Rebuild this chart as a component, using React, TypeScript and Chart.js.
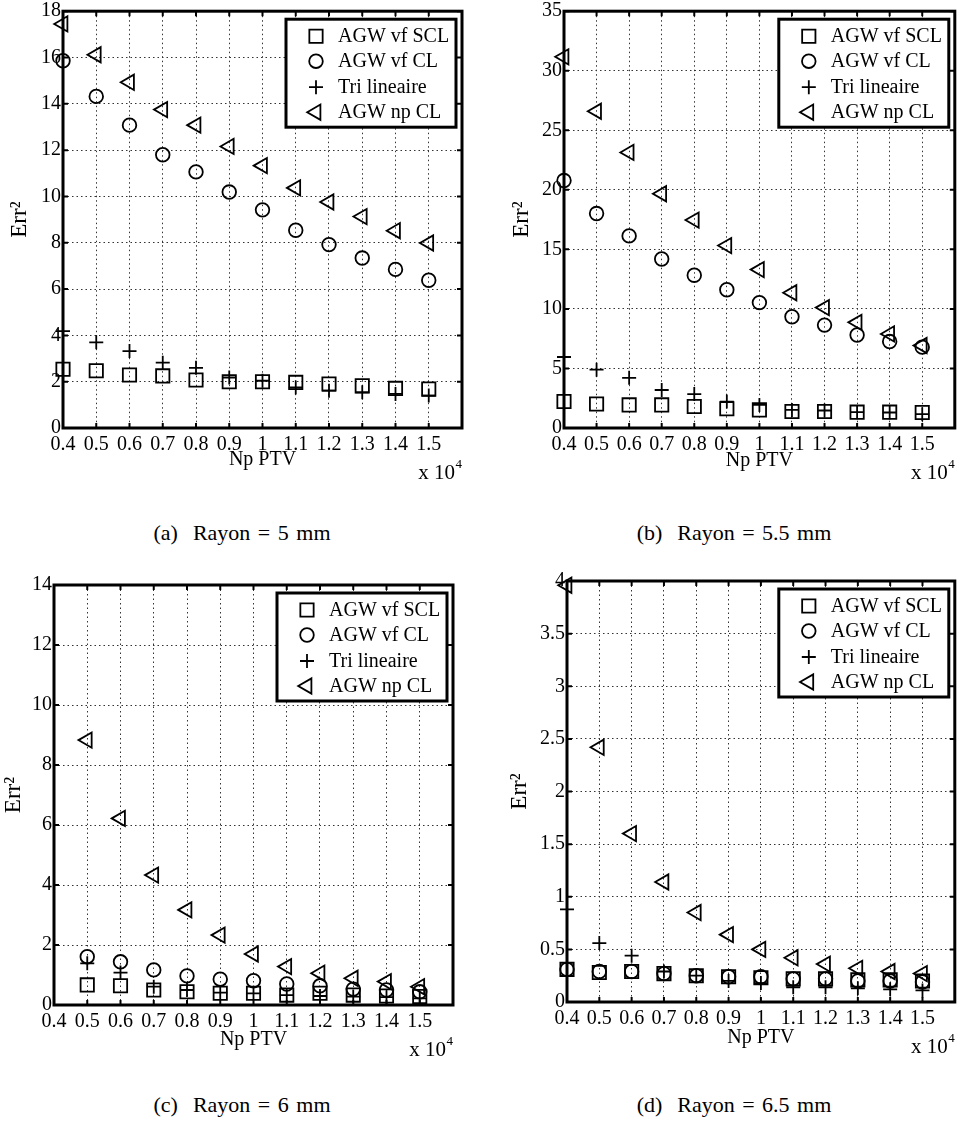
import React, { useEffect, useRef } from 'react';
import { Chart, registerables } from 'chart.js';

Chart.register(...registerables);

// ---------- data ----------
const npPTV = [0.4, 0.5, 0.6, 0.7, 0.8, 0.9, 1.0, 1.1, 1.2, 1.3, 1.4, 1.5];
const xTicks = [0.4, 0.5, 0.6, 0.7, 0.8, 0.9, 1.0, 1.1, 1.2, 1.3, 1.4, 1.5];
const xTickLabels = ['0.4', '0.5', '0.6', '0.7', '0.8', '0.9', '1', '1.1', '1.2', '1.3', '1.4', '1.5'];
const seriesLabels = ['AGW vf SCL', 'AGW vf CL', 'Tri lineaire', 'AGW np CL'];
const xTitle = 'Np PTV';
const yTitle = 'Err²';

// (a) Rayon = 5 mm
const aSCL = [2.54, 2.47, 2.29, 2.25, 2.07, 2.0, 2.0, 1.97, 1.9, 1.82, 1.71, 1.68];
const aVfCL = [15.86, 14.32, 13.08, 11.8, 11.06, 10.19, 9.42, 8.54, 7.92, 7.34, 6.85, 6.38];
const aTri = [4.18, 3.7, 3.32, 2.82, 2.6, 2.18, 2.04, 1.75, 1.61, 1.54, 1.47, 1.4];
const aNpCL = [17.45, 16.12, 14.93, 13.75, 13.08, 12.16, 11.33, 10.37, 9.76, 9.13, 8.52, 7.99];
const aYTicks = [0, 2, 4, 6, 8, 10, 12, 14, 16, 18];

// (b) Rayon = 5.5 mm
const bSCL = [2.22, 2.02, 1.94, 1.94, 1.8, 1.61, 1.52, 1.39, 1.39, 1.33, 1.33, 1.3];
const bVfCL = [20.78, 18.01, 16.13, 14.19, 12.83, 11.61, 10.53, 9.34, 8.64, 7.81, 7.26, 6.79];
const bTri = [5.96, 4.9, 4.21, 3.19, 2.85, 2.22, 1.94, 1.52, 1.47, 1.33, 1.3, 1.16];
const bNpCL = [31.17, 26.6, 23.14, 19.67, 17.46, 15.32, 13.3, 11.36, 10.11, 8.87, 7.9, 6.93];
const bYTicks = [0, 5, 10, 15, 20, 25, 30, 35];

// (c) Rayon = 6 mm
const cSCL = [null, 0.67, 0.64, 0.5, 0.44, 0.39, 0.39, 0.33, 0.39, 0.33, 0.3, 0.28];
const cVfCL = [null, 1.61, 1.44, 1.17, 0.97, 0.86, 0.81, 0.7, 0.64, 0.53, 0.5, 0.44];
const cTri = [null, 1.39, 1.08, 0.61, 0.5, 0.41, 0.39, 0.33, 0.3, 0.28, 0.26, 0.22];
const cNpCL = [null, 8.83, 6.22, 4.33, 3.17, 2.33, 1.7, 1.28, 1.06, 0.89, 0.78, 0.61];
const cYTicks = [0, 2, 4, 6, 8, 10, 12, 14];

// (d) Rayon = 6.5 mm
const dSCL = [0.31, 0.28, 0.29, 0.27, 0.25, 0.24, 0.23, 0.22, 0.22, 0.21, 0.21, 0.2];
const dVfCL = [0.31, 0.29, 0.29, 0.27, 0.25, 0.24, 0.24, 0.22, 0.22, 0.2, 0.2, 0.19];
const dTri = [0.88, 0.56, 0.44, 0.29, 0.25, 0.2, 0.18, 0.14, 0.14, 0.13, 0.12, 0.11];
const dNpCL = [3.96, 2.42, 1.6, 1.14, 0.85, 0.64, 0.5, 0.42, 0.36, 0.32, 0.29, 0.27];
const dYTicks = [0, 0.5, 1, 1.5, 2, 2.5, 3, 3.5, 4];

const captions = ['(a)  Rayon = 5 mm', '(b)  Rayon = 5.5 mm', '(c)  Rayon = 6 mm', '(d)  Rayon = 6.5 mm'];

// ---------- layout / style ----------
const FONT = 'Liberation Serif, Times New Roman, serif';
const X_SCALE_H = 60;

type Marker = { style: string; radius: number; rotation: number };
const markers: Marker[] = [
  { style: 'rect', radius: 9.4, rotation: 0 },
  { style: 'circle', radius: 6.8, rotation: 0 },
  { style: 'cross', radius: 7, rotation: 0 },
  { style: 'triangle', radius: 8.8, rotation: -90 },
];

type Panel = {
  canvas: { left: number; top: number; width: number; height: number };
  area: { l: number; t: number; r: number; b: number };
  yTitleX: number;
  xTitleDy: number;
  yMax: number;
  yTicks: number[];
  series: (number | null)[][];
  caption: string;
  captionX: number;
  captionY: number;
};

const panels: Panel[] = [
  {
    canvas: { left: 0, top: 0, width: 483, height: 500 },
    area: { l: 63, t: 7, r: 462, b: 428 },
    yTitleX: 20, xTitleDy: 32, yMax: 18, yTicks: aYTicks,
    series: [aSCL, aVfCL, aTri, aNpCL],
    caption: captions[0], captionX: 242, captionY: 533,
  },
  {
    canvas: { left: 483, top: 0, width: 483, height: 500 },
    area: { l: 564, t: 7, r: 962, b: 428 },
    yTitleX: 522, xTitleDy: 33, yMax: 35, yTicks: bYTicks,
    series: [bSCL, bVfCL, bTri, bNpCL],
    caption: captions[1], captionX: 734, captionY: 533,
  },
  {
    canvas: { left: 0, top: 560, width: 483, height: 500 },
    area: { l: 54, t: 585, r: 453, b: 1005 },
    yTitleX: 12, xTitleDy: 35, yMax: 14, yTicks: cYTicks,
    series: [cSCL, cVfCL, cTri, cNpCL],
    caption: captions[2], captionX: 242, captionY: 1105,
  },
  {
    canvas: { left: 483, top: 560, width: 483, height: 500 },
    area: { l: 567, t: 581, r: 960, b: 1002 },
    yTitleX: 520, xTitleDy: 36, yMax: 4, yTicks: dYTicks,
    series: [dSCL, dVfCL, dTri, dNpCL],
    caption: captions[3], captionX: 734, captionY: 1105,
  },
];

function drawMarker(ctx: CanvasRenderingContext2D, m: Marker, x: number, y: number) {
  const r = m.radius;
  ctx.beginPath();
  if (m.style === 'rect') {
    const s = Math.SQRT1_2 * r;
    ctx.rect(x - s, y - s, 2 * s, 2 * s);
  } else if (m.style === 'circle') {
    ctx.arc(x, y, r, 0, Math.PI * 2);
  } else if (m.style === 'cross') {
    ctx.moveTo(x - r, y);
    ctx.lineTo(x + r, y);
    ctx.moveTo(x, y - r);
    ctx.lineTo(x, y + r);
  } else if (m.style === 'triangle') {
    let rad = (m.rotation * Math.PI) / 180;
    ctx.moveTo(x + Math.sin(rad) * r, y - Math.cos(rad) * r);
    rad += (2 * Math.PI) / 3;
    ctx.lineTo(x + Math.sin(rad) * r, y - Math.cos(rad) * r);
    rad += (2 * Math.PI) / 3;
    ctx.lineTo(x + Math.sin(rad) * r, y - Math.cos(rad) * r);
    ctx.closePath();
  }
  ctx.stroke();
}

const framePlugin = {
  id: 'matlabFrame',
  afterDraw(chart: any) {
    const { ctx, chartArea: a, scales } = chart;
    const xs = scales.x;
    const ys = scales.y;
    ctx.save();
    ctx.strokeStyle = '#000';
    ctx.lineWidth = 2;
    const tl = 5;
    ctx.beginPath();
    xs.ticks.forEach((t: any) => {
      const px = xs.getPixelForValue(t.value);
      ctx.moveTo(px, a.bottom);
      ctx.lineTo(px, a.bottom - tl);
      ctx.moveTo(px, a.top);
      ctx.lineTo(px, a.top + tl);
    });
    ys.ticks.forEach((t: any) => {
      const py = ys.getPixelForValue(t.value);
      ctx.moveTo(a.left, py);
      ctx.lineTo(a.left + tl, py);
      ctx.moveTo(a.right, py);
      ctx.lineTo(a.right - tl, py);
    });
    ctx.stroke();
    ctx.lineWidth = 3;
    ctx.strokeRect(a.left, a.top, a.right - a.left, a.bottom - a.top);

    // legend box
    const lw = 170;
    const lh = 108;
    const lx = a.right - 6 - lw;
    const ly = a.top + 8;
    ctx.fillStyle = '#fff';
    ctx.fillRect(lx, ly, lw, lh);
    ctx.lineWidth = 3;
    ctx.strokeRect(lx, ly, lw, lh);
    ctx.font = `20px ${FONT}`;
    ctx.textAlign = 'left';
    ctx.textBaseline = 'middle';
    ctx.fillStyle = '#000';
    const rowY = [17, 42, 68, 93];
    chart.data.datasets.forEach((ds: any, i: number) => {
      const yy = ly + rowY[i];
      ctx.lineWidth = 1.8;
      drawMarker(ctx, markers[i], lx + 30, yy);
      ctx.fillText(ds.label, lx + 52, yy + 1);
    });

    // x 10^4 multiplier
    ctx.textBaseline = 'alphabetic';
    ctx.font = `13px ${FONT}`;
    const supW = ctx.measureText('4').width;
    ctx.textAlign = 'right';
    ctx.fillText('4', a.right, a.bottom + 40);
    ctx.font = `21px ${FONT}`;
    ctx.fillText('x 10', a.right - supW - 0.5, a.bottom + 51);
    ctx.restore();
  },
};

function PanelChart({ p }: { p: Panel }) {
  const ref = useRef<HTMLCanvasElement | null>(null);
  useEffect(() => {
    if (!ref.current) return;
    const { canvas, area } = p;
    const font = { family: FONT, size: 20 };
    const yTitleFont = { family: FONT, size: 23 };
    const chart = new Chart(ref.current, {
      type: 'scatter',
      data: {
        datasets: p.series.map((vals, i) => ({
          label: seriesLabels[i],
          data: npPTV.map((x, j) => ({ x, y: vals[j] })),
          showLine: false,
          pointStyle: markers[i].style as any,
          pointRadius: markers[i].radius,
          pointRotation: markers[i].rotation,
          pointBorderWidth: 1.8,
          pointBorderColor: '#000',
          pointBackgroundColor: 'rgba(0,0,0,0)',
          pointHoverRadius: markers[i].radius,
          clip: false as any,
        })),
      },
      options: {
        animation: false,
        responsive: false,
        maintainAspectRatio: false,
        events: [],
        layout: {
          padding: {
            left: 0,
            top: area.t - canvas.top,
            right: canvas.left + canvas.width - area.r,
            bottom: canvas.top + canvas.height - area.b - X_SCALE_H,
          },
        },
        plugins: { legend: { display: false }, tooltip: { enabled: false } },
        scales: {
          x: {
            type: 'linear',
            min: 0.4,
            max: 1.6,
            afterBuildTicks: (s: any) => {
              s.ticks = xTicks.map((v) => ({ value: v }));
            },
            afterFit: (s: any) => {
              s.height = X_SCALE_H;
              s.paddingLeft = 0;
              s.paddingRight = 0;
            },
            ticks: {
              callback: (_v: any, i: number) => xTickLabels[i],
              font,
              color: '#000',
              padding: 5,
              maxRotation: 0,
              autoSkip: false,
            },
            grid: { color: '#333', lineWidth: 1, drawTicks: false },
            border: { display: false, dash: [1.5, 3] },
            title: {
              display: true,
              text: xTitle,
              font,
              color: '#000',
              padding: { top: 0, bottom: X_SCALE_H - p.xTitleDy - 12 },
            },
          },
          y: {
            type: 'linear',
            min: 0,
            max: p.yMax,
            afterBuildTicks: (s: any) => {
              s.ticks = p.yTicks.map((v) => ({ value: v }));
            },
            afterFit: (s: any) => {
              s.width = area.l - canvas.left;
              s.paddingTop = 0;
              s.paddingBottom = 0;
            },
            ticks: {
              callback: (v: any) => String(v),
              font,
              color: '#000',
              padding: 2,
              autoSkip: false,
            },
            grid: { color: '#333', lineWidth: 1, drawTicks: false },
            border: { display: false, dash: [1.5, 3] },
            title: {
              display: true,
              text: yTitle,
              font: yTitleFont,
              color: '#000',
              padding: { top: Math.max(0, p.yTitleX - canvas.left - 14), bottom: 0 },
            },
          },
        },
      } as any,
      plugins: [framePlugin],
    });
    return () => chart.destroy();
  }, [p]);
  return (
    <canvas
      ref={ref}
      width={p.canvas.width}
      height={p.canvas.height}
      style={{
        position: 'absolute',
        left: p.canvas.left,
        top: p.canvas.top,
        width: p.canvas.width,
        height: p.canvas.height,
      }}
    />
  );
}

export default function App() {
  return (
    <div
      style={{
        position: 'absolute',
        left: 0,
        top: 0,
        width: 966,
        height: 1127,
        background: '#fff',
        overflow: 'hidden',
      }}
    >
      {panels.map((p, i) => (
        <PanelChart key={i} p={p} />
      ))}
      {panels.map((p, i) => (
        <div
          key={'c' + i}
          style={{
            position: 'absolute',
            left: p.captionX - 150,
            top: p.captionY - 14,
            width: 300,
            textAlign: 'center',
            fontFamily: FONT,
            fontSize: 22,
            lineHeight: '28px',
            whiteSpace: 'pre',
            wordSpacing: 2,
            color: '#000',
          }}
        >
          {p.caption}
        </div>
      ))}
    </div>
  );
}
